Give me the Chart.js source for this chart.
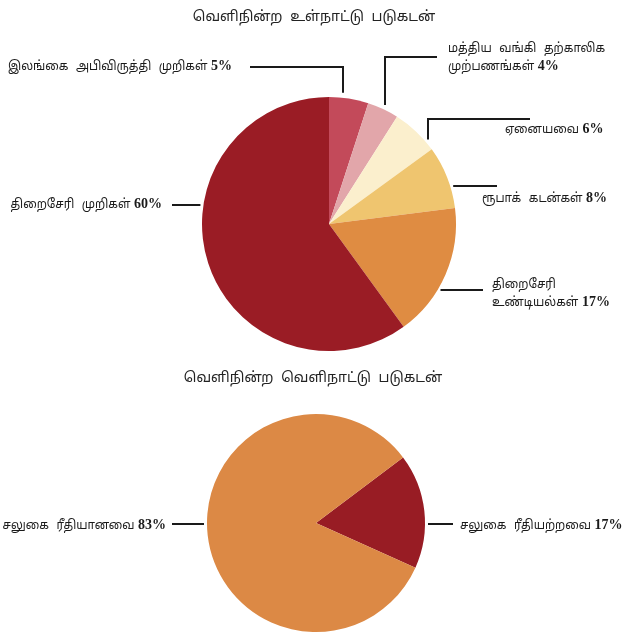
<!DOCTYPE html>
<html><head><meta charset="utf-8">
<script src="https://cdn.jsdelivr.net/npm/chart.js@4.4.1/dist/chart.umd.min.js"></script>
<style>
html,body{margin:0;padding:0;background:#fff;}
#wrap{position:relative;width:627px;height:637px;overflow:hidden;}
#c1{position:absolute;left:0;top:0;}
#c2{position:absolute;left:0;top:365px;}
</style></head><body>
<div id="wrap">
<canvas id="c1" width="627" height="365"></canvas>
<canvas id="c2" width="627" height="272"></canvas>
</div>
<script>
// ---- data ----
const domesticTitle = 'வெளிநின்ற உள்நாட்டு படுகடன்';
const domesticLabels = ['இலங்கை அபிவிருத்தி முறிகள்', 'மத்திய வங்கி தற்காலிக முற்பணங்கள்', 'ஏனையவை', 'ரூபாக் கடன்கள்', 'திறைசேரி உண்டியல்கள்', 'திறைசேரி முறிகள்'];
const domesticValues = [5, 4, 6, 8, 17, 60];
const domesticColors = ['#c34a5a', '#e2a6aa', '#fbefcd', '#efc56f', '#df8c42', '#9a1c25'];

const foreignTitle = 'வெளிநின்ற வெளிநாட்டு படுகடன்';
const foreignLabels = ['சலுகை ரீதியற்றவை', 'சலுகை ரீதியானவை'];
const foreignValues = [17, 83];
const foreignColors = ['#981c24', '#dc8945'];

// ---- label layout (positions only) ----
const domesticLayout = [
  {lines: ['இலங்கை அபிவிருத்தி முறிகள்'], x: 8, y: 70, align: 'left', leader: {type: 'down', hy: 67, hx: 250, vx: 343}},
  {lines: ['மத்திய வங்கி தற்காலிக', 'முற்பணங்கள்'], x: 448, y: 52, align: 'left', leader: {type: 'down', hy: 57, hx: 437, vx: 385}},
  {lines: ['ஏனையவை'], x: 505, y: 133, align: 'left', leader: {type: 'down', hy: 119, hx: 530, vx: 428}},
  {lines: ['ரூபாக் கடன்கள்'], x: 482, y: 202, align: 'left', leader: {type: 'side', hy: 186, hx: 497, side: 1}},
  {lines: ['திறைசேரி', 'உண்டியல்கள்'], x: 492, y: 288, align: 'left', leader: {type: 'side', hy: 290, hx: 483, side: 1}},
  {lines: ['திறைசேரி முறிகள்'], x: 162, y: 208, align: 'right', leader: {type: 'side', hy: 205, hx: 172, side: -1}}
];
const foreignLayout = [
  {lines: ['சலுகை ரீதியற்றவை'], x: 460, y: 164, align: 'left', leader: {type: 'side', hy: 159, hx: 453, side: 1}},
  {lines: ['சலுகை ரீதியானவை'], x: 166, y: 164, align: 'right', leader: {type: 'side', hy: 159, hx: 172, side: -1}}
];

const TAMIL = '13px "Noto Sans Tamil", "Lohit Tamil", "Noto Sans", "DejaVu Sans", sans-serif';
const SX = 0.9;
const PCT = 'bold 14px "Liberation Serif", "DejaVu Serif", serif';

const labelPlugin = {
  id: 'pieLabels',
  afterDraw(chart, args, opts) {
    const ctx = chart.ctx;
    const meta = chart.getDatasetMeta(0);
    const arc0 = meta.data[0];
    const cx = arc0.x, cy = arc0.y, r = arc0.outerRadius;
    const values = chart.data.datasets[0].data;
    ctx.save();
    ctx.fillStyle = '#222';
    ctx.font = '14px "Noto Sans Tamil", "Lohit Tamil", "Noto Sans", "DejaVu Sans", sans-serif';
    ctx.wordSpacing = '4px';
    ctx.textAlign = 'center';
    ctx.textBaseline = 'middle';
    ctx.fillText(opts.title, opts.titleX, opts.titleY);
    ctx.strokeStyle = '#1a1a1a';
    ctx.lineWidth = 2;
    opts.layout.forEach((L, i) => {
      const ld = L.leader;
      ctx.beginPath();
      if (ld.type === 'down') {
        const dx = ld.vx - cx;
        const edgeY = cy - Math.sqrt(Math.max(0, r * r - dx * dx)) - 5;
        ctx.moveTo(ld.hx, ld.hy);
        ctx.lineTo(ld.vx, ld.hy);
        ctx.lineTo(ld.vx, edgeY);
      } else {
        const dy = ld.hy - cy;
        const edgeX = cx + ld.side * (Math.sqrt(Math.max(0, r * r - dy * dy)) + 3);
        ctx.moveTo(edgeX, ld.hy);
        ctx.lineTo(ld.hx, ld.hy);
      }
      ctx.stroke();
      ctx.textBaseline = 'alphabetic';
      ctx.textAlign = 'left';
      ctx.fillStyle = '#1a1a1a';
      const pct = ' ' + values[i] + '%';
      L.lines.forEach((line, k) => {
        const y = L.y + k * 18;
        const last = k === L.lines.length - 1;
        ctx.font = TAMIL;
        ctx.wordSpacing = '5px';
        const w1 = ctx.measureText(line).width * SX;
        ctx.font = PCT;
        ctx.wordSpacing = '0px';
        const w2 = last ? ctx.measureText(pct).width : 0;
        const x0 = L.align === 'left' ? L.x : L.x - w1 - w2;
        ctx.save();
        ctx.font = TAMIL;
        ctx.wordSpacing = '5px';
        ctx.translate(x0, y);
        ctx.scale(SX, 1);
        ctx.fillText(line, 0, 0);
        ctx.restore();
        if (last) {
          ctx.font = PCT;
          ctx.wordSpacing = '0px';
          ctx.fillText(pct, x0 + w1, y);
        }
      });
    });
    ctx.restore();
  }
};

function makePie(id, labels, values, colors, rotation, padding, title, titleX, titleY, layout) {
  return new Chart(document.getElementById(id), {
    type: 'pie',
    data: {labels: labels, datasets: [{data: values, backgroundColor: colors, borderWidth: 0}]},
    options: {
      responsive: false,
      devicePixelRatio: 1,
      animation: false,
      rotation: rotation,
      layout: {padding: padding},
      plugins: {
        legend: {display: false},
        tooltip: {enabled: false},
        title: {display: false},
        pieLabels: {title: title, titleX: titleX, titleY: titleY, layout: layout}
      }
    },
    plugins: [labelPlugin]
  });
}

makePie('c1', domesticLabels, domesticValues, domesticColors, 0,
  {top: 97, bottom: 14, left: 202, right: 171}, domesticTitle, 314, 18, domesticLayout);
makePie('c2', foreignLabels, foreignValues, foreignColors, 53,
  {top: 48, bottom: 4, left: 207, right: 202}, foreignTitle, 313, 14, foreignLayout);
</script>
</body></html>
